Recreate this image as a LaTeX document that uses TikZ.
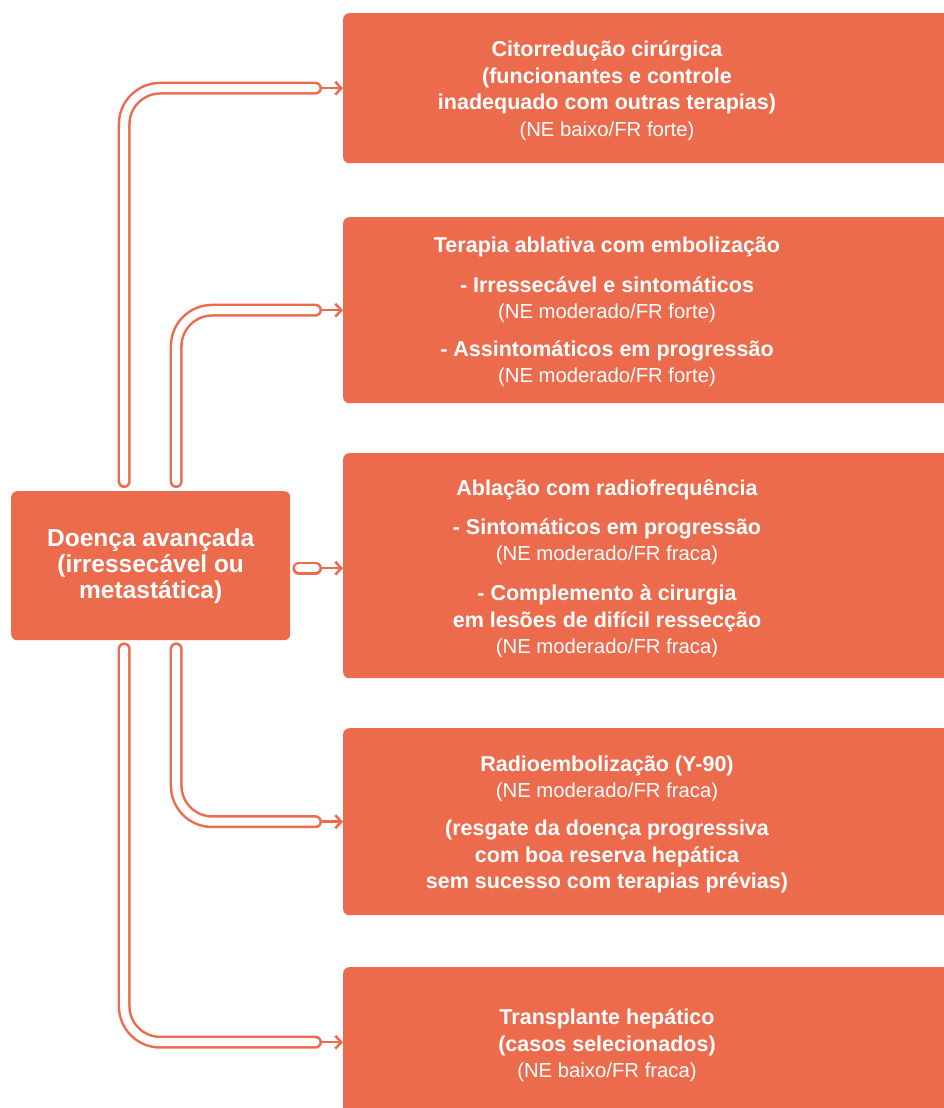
\documentclass[tikz,border=0pt]{standalone}
\usepackage{fontspec}
\setmainfont{Liberation Sans}
\usetikzlibrary{arrows.meta, positioning}
\definecolor{coral}{RGB}{236,107,77}
\newcommand\grau[1]{{\mdseries\fontsize{20.3}{26.5}\selectfont #1}}

\begin{document}
\begin{tikzpicture}[x=1pt, y=-1pt,
  box/.style={fill=coral, rounded corners=6pt, inner sep=0pt, anchor=north west},
  txt/.style={text=white, align=center, font=\fontsize{21.5}{26.5}\selectfont\bfseries},
  pipe/.style={draw=coral, line width=2.5pt, double=white, double distance=8pt, line cap=round, rounded corners=36pt},
  tip/.style={draw=coral, line width=2.5pt, -{Straight Barb[length=6pt, width=13pt]}}]
  \useasboundingbox (0,0) rectangle (943,1108);

  \node[box, minimum width=279, minimum height=149, text=white, align=center, font=\fontsize{24.5}{26}\selectfont\bfseries] (adv) at (11,491) {Doença avançada\\(irressecável ou\\metastática)};

  \node[box, minimum width=617, minimum height=150] (cito) at (343,13) {};
  \node[box, minimum width=617, minimum height=186] (abla) at (343,217) {};
  \node[box, minimum width=617, minimum height=225] (radio) at (343,453) {};
  \node[box, minimum width=617, minimum height=187] (y90) at (343,728) {};
  \node[box, minimum width=617, minimum height=150] (tx) at (343,967) {};

  \node[txt] (citoT) at (607,90.5) {Citorredução cirúrgica\\(funcionantes e controle\\inadequado com outras terapias)\\\grau{(NE baixo/FR forte)}};
  \node[txt] (ablaT) at (607,312) {Terapia ablativa com embolização\\[13.5pt]- Irressecável e sintomáticos\\\grau{(NE moderado/FR forte)}\\[11pt]- Assintomáticos em progressão\\\grau{(NE moderado/FR forte)}};
  \node[txt] (radioT) at (607,568.5) {Ablação com radiofrequência\\[12.5pt]- Sintomáticos em progressão\\\grau{(NE moderado/FR fraca)}\\[13.5pt]- Complemento à cirurgia\\em lesões de difícil ressecção\\\grau{(NE moderado/FR fraca)}};
  \node[txt] (y90T) at (607,824.5) {Radioembolização (Y-90)\\\grau{(NE moderado/FR fraca)}\\[11.5pt](resgate da doença progressiva\\com boa reserva hepática\\sem sucesso com terapias prévias)};
  \node[txt] (txT) at (607,1045.5) {Transplante hepático\\(casos selecionados)\\\grau{(NE baixo/FR fraca)}};

  \draw[pipe] ([xshift=-26.5pt, yshift=9.5pt]adv.north) |- ([xshift=-27.5pt]cito.west);
  \draw[pipe] ([xshift=25.5pt, yshift=9.5pt]adv.north) |- ([xshift=-27.5pt]abla.west);
  \draw[pipe] ([xshift=8.5pt, yshift=-2.5pt]adv.east) -- ([xshift=-27.5pt, yshift=-2.5pt]radio.west);
  \draw[pipe] ([xshift=25.5pt, yshift=-8.5pt]adv.south) |- ([xshift=-27.5pt]y90.west);
  \draw[pipe] ([xshift=-26.5pt, yshift=-8.5pt]adv.south) |- ([xshift=-27.5pt]tx.west);

  \draw[tip] ([xshift=-21pt]cito.west) -- (cito.west);
  \draw[tip] ([xshift=-21pt]abla.west) -- (abla.west);
  \draw[tip] ([xshift=-21pt, yshift=-2.5pt]radio.west) -- ([yshift=-2.5pt]radio.west);
  \draw[tip] ([xshift=-21pt]y90.west) -- (y90.west);
  \draw[tip] ([xshift=-21pt]tx.west) -- (tx.west);
\end{tikzpicture}
\end{document}
